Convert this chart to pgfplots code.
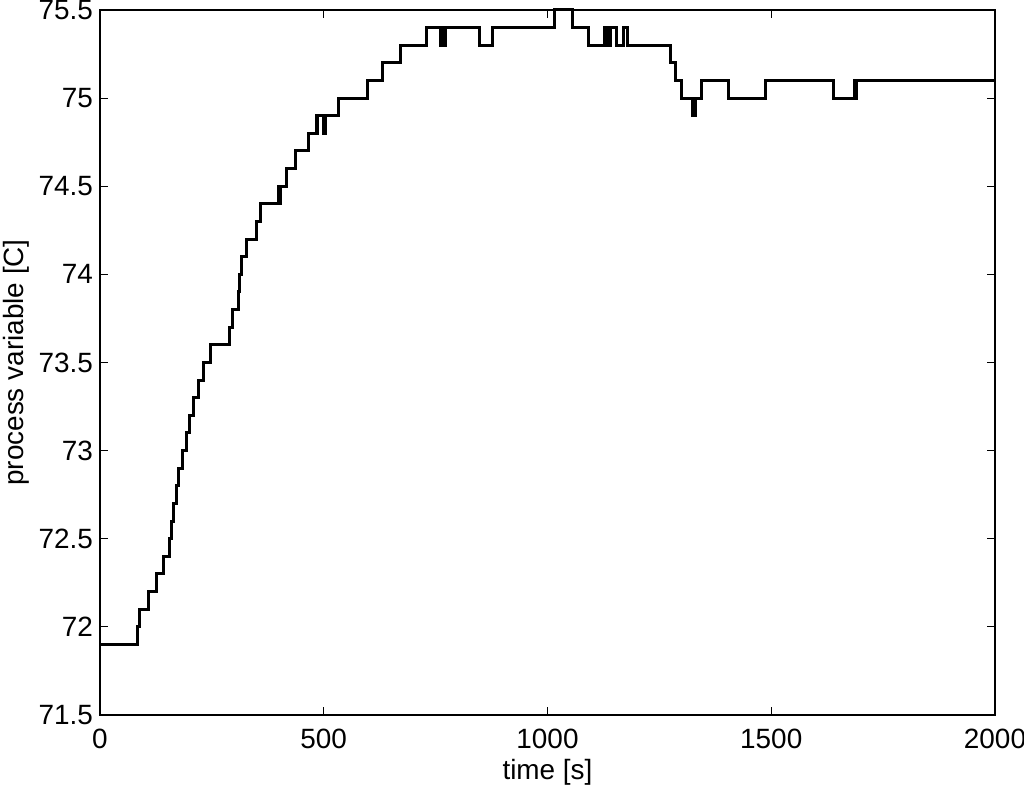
\documentclass[border=0pt]{standalone}
\usepackage{pgfplots}
\pgfplotsset{compat=1.18}
\usepackage{fontspec}
\setmainfont{Liberation Sans}
\begin{document}
\begin{tikzpicture}
\begin{axis}[
  scale only axis,
  width=447.5bp, height=352.5bp,
  xmin=0, xmax=2000, ymin=71.5, ymax=75.5,
  xtick={0,500,1000,1500,2000},
  ytick={71.5,72,72.5,73,73.5,74,74.5,75,75.5},
  yticklabels={71.5,72,72.5,73,73.5,74,74.5,75,75.5},
  xticklabels={0,500,1000,1500,2000},
  tick align=inside,
  major tick length=4bp,
  ticklabel style={font=\fontsize{14}{16}\selectfont},
  xticklabel style={yshift=-3.5bp},
  label style={font=\fontsize{14}{16}\selectfont},
  xlabel={time [s]},
  ylabel={process variable [C]},
  axis line style={line width=0.75bp},
  every tick/.style={black, line width=0.6bp},
  xlabel style={yshift=1.5bp},
  ylabel style={yshift=-2bp},
  clip=false,
]
\addplot[const plot, black, line width=1.5bp] coordinates {
(0,71.9) (84,72.0) (89,72.1) (108,72.2) (127,72.3) (143,72.4) (155,72.5)
(160,72.6) (164,72.7) (170,72.8) (175,72.9) (185,73.0) (194,73.1) (200,73.2)
(208,73.3) (220,73.4) (232,73.5) (246,73.6) (289,73.7) (297,73.8) (309,73.9)
(311,74.0) (317,74.1) (328,74.2) (349,74.3) (358,74.4)
(398,74.5) (401,74.4) (404,74.5)
(417,74.6) (436,74.7) (465,74.8)
(483,74.9) (485,74.8) (487,74.9) (500,74.8) (503,74.9)
(534,75.0) (597,75.1) (632,75.2) (672,75.3) (729,75.4)
(760,75.3) (763,75.4) (765,75.3) (768,75.4) (770,75.3) (773,75.4)
(847,75.3) (878,75.4) (1015,75.5) (1055,75.4) (1091,75.3)
(1128,75.4) (1131,75.3) (1134,75.4) (1137,75.3) (1140,75.4) (1155,75.3) (1169,75.4) (1178,75.3)
(1274,75.2) (1285,75.1) (1300,75.0) (1325,74.9) (1330,75.0) (1345,75.1)
(1405,75.0) (1488,75.1) (1638,75.0) (1687,75.1) (1689,75.0) (1691,75.1)
(2000,75.1)
};
\end{axis}
\pgfresetboundingbox
\path (current axis.south west) +(-50bp,-35.5bp) (current axis.north east) +(14.5bp,5bp);
\end{tikzpicture}
\end{document}
